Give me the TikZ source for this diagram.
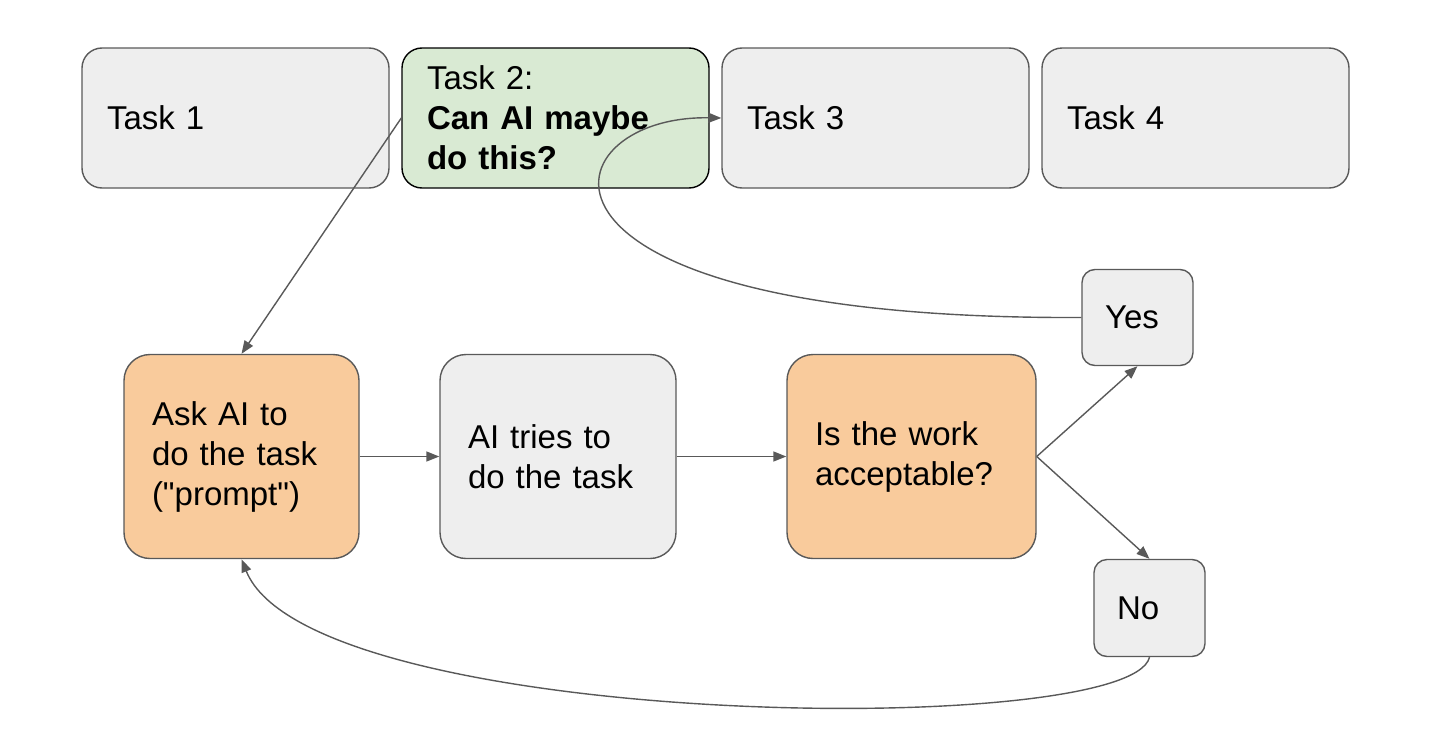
\documentclass[tikz,border=0pt]{standalone}
\usepackage{fontspec}
\setmainfont{Liberation Sans}
\usetikzlibrary{arrows.meta}
\definecolor{lgray}{HTML}{EEEEEE}
\definecolor{dgray}{HTML}{595959}
\definecolor{lgreen}{HTML}{D9EAD3}
\definecolor{lorange}{HTML}{F9CB9C}
\tikzset{
  box/.style={draw=dgray, line width=1.4pt, fill=lgray, rounded corners=20pt,
    font=\fontsize{33}{40}\selectfont, align=left, inner ysep=0pt, anchor=center},
  conn/.style={draw=dgray, line width=1.4pt, -{Triangle[length=13pt,width=10pt]}},
}
\begin{document}
\begin{tikzpicture}[x=1pt,y=-1pt]
\useasboundingbox (0,0) rectangle (1442,736);
% top row
\node[box, minimum width=307pt, minimum height=140pt, text width=257pt, inner xsep=25pt] (t1) at (235.5,118) {Task 1};
\node[box, fill=lgreen, draw=black, minimum width=307pt, minimum height=140pt, text width=257pt, inner xsep=25pt] (t2) at (555.5,118) {Task 2:\\\textbf{Can AI maybe}\\\textbf{do this?}};
\node[box, minimum width=307pt, minimum height=140pt, text width=257pt, inner xsep=25pt] (t3) at (875.5,118) {Task 3};
\node[box, minimum width=307pt, minimum height=140pt, text width=257pt, inner xsep=25pt] (t4) at (1195.5,118) {Task 4};
% middle row
\node[box, fill=lorange, rounded corners=26pt, minimum width=235pt, minimum height=204pt, text width=179pt, inner xsep=28pt] (ask) at (241.5,456.5) {Ask AI to\\do the task\\(\textquotedbl prompt\textquotedbl)};
\node[box, rounded corners=26pt, minimum width=236pt, minimum height=204pt, text width=180pt, inner xsep=28pt] (try) at (558,456.5) {AI tries to\\do the task};
\node[box, fill=lorange, rounded corners=26pt, minimum width=249pt, minimum height=204pt, text width=193pt, inner xsep=28pt] (ok) at (911.5,456.5) {Is the work\\acceptable?};
% yes / no
\node[box, rounded corners=13pt, minimum width=111pt, minimum height=96pt, text width=65pt, inner xsep=23pt] (yes) at (1137.5,317.5) {Yes};
\node[box, rounded corners=13pt, minimum width=111pt, minimum height=97pt, text width=65pt, inner xsep=23pt] (no) at (1149.5,608) {No};
% connectors
\draw[conn] (t2.west) -- (ask.north);
\draw[conn] (ask.east) -- (try.west);
\draw[conn] (try.east) -- (ok.west);
\draw[conn] (ok.east) -- (yes.south);
\draw[conn] (ok.east) -- (no.north);
\draw[conn] (yes.west) .. controls (490,320) and (545,115) .. (t3.west);
\draw[conn] (no.south) .. controls (1130,740) and (310,730) .. (ask.south);
\end{tikzpicture}
\end{document}
